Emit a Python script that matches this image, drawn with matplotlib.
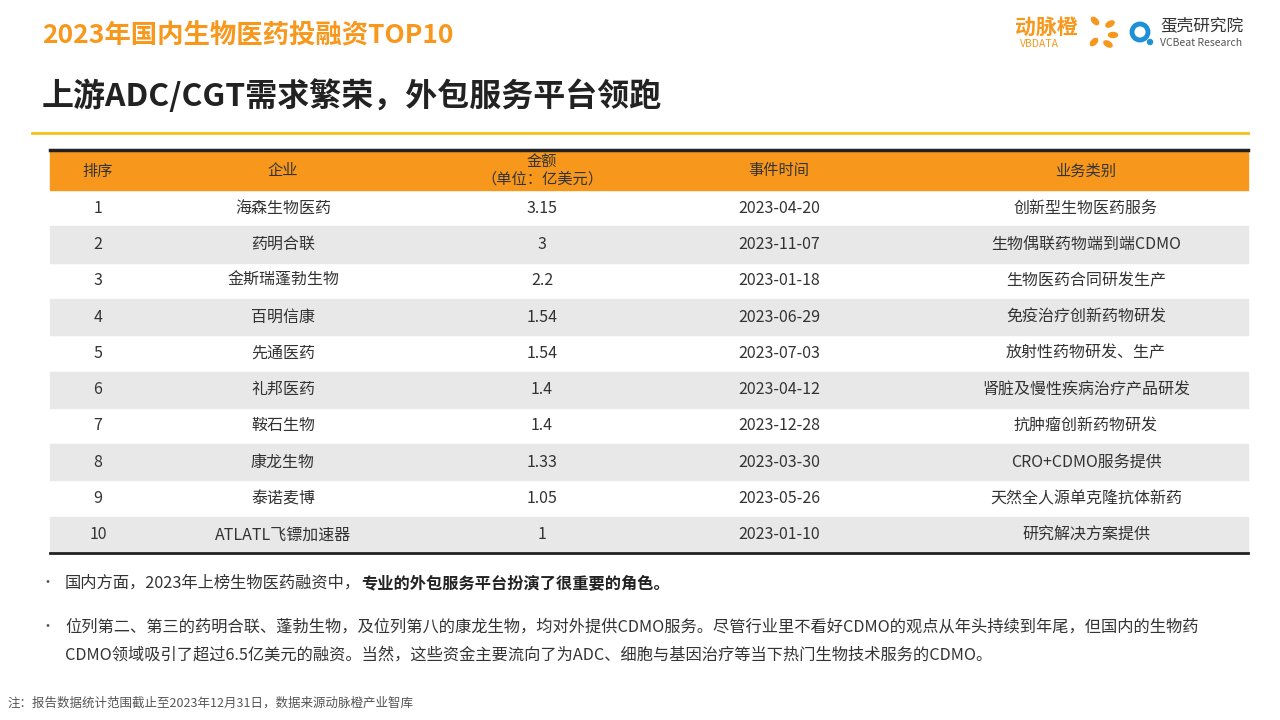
import matplotlib.pyplot as plt
from matplotlib.patches import Rectangle, Ellipse

plt.rcParams['font.family'] = ['Noto Sans CJK SC', 'DejaVu Sans']

ranks = ['1', '2', '3', '4', '5', '6', '7', '8', '9', '10']
companies = ['海森生物医药', '药明合联', '金斯瑞蓬勃生物', '百明信康', '先通医药',
             '礼邦医药', '鞍石生物', '康龙生物', '泰诺麦博', 'ATLATL飞镖加速器']
amounts = ['3.15', '3', '2.2', '1.54', '1.54', '1.4', '1.4', '1.33', '1.05', '1']
dates = ['2023-04-20', '2023-11-07', '2023-01-18', '2023-06-29', '2023-07-03',
         '2023-04-12', '2023-12-28', '2023-03-30', '2023-05-26', '2023-01-10']
business = ['创新型生物医药服务', '生物偶联药物端到端CDMO', '生物医药合同研发生产',
            '免疫治疗创新药物研发', '放射性药物研发、生产', '肾脏及慢性疾病治疗产品研发',
            '抗肿瘤创新药物研发', 'CRO+CDMO服务提供', '天然全人源单克隆抗体新药', '研究解决方案提供']
headers = ['排序', '企业', '金额\n（单位：亿美元）', '事件时间', '业务类别']

ORANGE = '#F7981D'
col_x = [98, 283, 542, 779, 1086]
left, right = 50, 1248
head_top, head_bot, table_bot = 150, 190, 553
row_h = (table_bot - head_bot) / len(ranks)

fig = plt.figure(figsize=(12.8, 7.2), dpi=100)
ax = fig.add_axes([0, 0, 1, 1])
ax.set_xlim(0, 1280)
ax.set_ylim(720, 0)
ax.axis('off')

# titles
ax.text(42, 36, '2023年国内生物医药投融资TOP10', color=ORANGE, fontsize=19,
        fontweight='bold', va='center')
ax.text(42, 96, '上游ADC/CGT需求繁荣，外包服务平台领跑', color='#222222', fontsize=23,
        fontweight='bold', va='center')
ax.plot([32, 1248], [133, 133], color='#F2C21B', lw=2)

# logos (text approximations)
ax.text(1015, 27, '动脉橙', color=ORANGE, fontsize=15, fontweight='bold', va='center')
ax.text(1020, 44, 'VBDATA', color=ORANGE, fontsize=7.5, va='center')
for (x, y, a) in [(1095, 21, 45), (1110, 24, -30), (1113, 35, 0), (1108, 44, 30), (1094, 42, -45)]:
    ax.add_patch(Ellipse((x, y), 9, 5, angle=a, color=ORANGE))
ax.add_patch(plt.Circle((1140, 32), 8, fill=False, ec='#1E90D8', lw=3.5))
ax.add_patch(plt.Circle((1150, 42), 2.5, color='#1E90D8'))
ax.text(1160, 26, '蛋壳研究院', color='#333333', fontsize=12, va='center')
ax.text(1160, 43, 'VCBeat Research', color='#555555', fontsize=7.5, va='center')

# header
ax.add_patch(Rectangle((left, head_top), right - left, head_bot - head_top, color=ORANGE))
ax.plot([left, right], [head_top, head_top], color='#222222', lw=2.5)
for x, h in zip(col_x, headers):
    ax.text(x, (head_top + head_bot) / 2 + 1, h, ha='center', va='center', fontsize=11,
            color='#333333', linespacing=1.0)

# rows
for i in range(len(ranks)):
    y0 = head_bot + i * row_h
    if i % 2 == 1:
        ax.add_patch(Rectangle((left, y0), right - left, row_h, color='#E8E8E8'))
    yc = y0 + row_h / 2
    for x, val in zip(col_x, [ranks[i], companies[i], amounts[i], dates[i], business[i]]):
        ax.text(x, yc, val, ha='center', va='center', fontsize=11.5, color='#333333')
ax.plot([left, right], [table_bot, table_bot], color='#222222', lw=2)

# notes
fs = 11.7
ax.text(40, 583, '•', fontsize=10, va='center', color='#555555')
t1 = ax.text(65, 583, '国内方面，2023年上榜生物医药融资中，', fontsize=fs, va='center', color='#333333')
ax.annotate('专业的外包服务平台扮演了很重要的角色。', xy=(1, 0.5), xycoords=t1,
            fontsize=fs, va='center', ha='left', color='#222222', fontweight='bold')
ax.text(40, 627, '•', fontsize=10, va='center', color='#555555')
ax.text(65, 627, '位列第二、第三的药明合联、蓬勃生物，及位列第八的康龙生物，均对外提供CDMO服务。'
        '尽管行业里不看好CDMO的观点从年头持续到年尾，但国内的生物药',
        fontsize=fs, va='center', color='#333333')
ax.text(65, 655, 'CDMO领域吸引了超过6.5亿美元的融资。当然，这些资金主要流向了为ADC、细胞与基因治疗等当下热门生物技术服务的CDMO。',
        fontsize=fs, va='center', color='#333333')
ax.text(8, 703, '注：报告数据统计范围截止至2023年12月31日，数据来源动脉橙产业智库', fontsize=9,
        va='center', color='#555555')

fig.savefig('out.png', dpi=100)
